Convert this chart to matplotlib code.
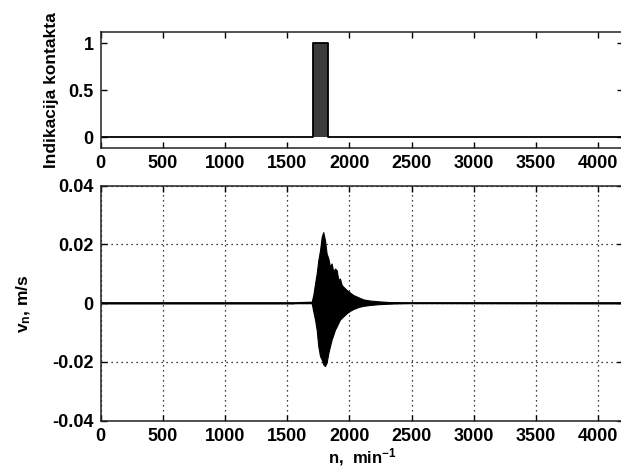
import matplotlib
matplotlib.use("Agg")
import matplotlib.pyplot as plt
import numpy as np

# ---- data ----
# contact indicator (top panel)
contact_n = [0, 1705, 1705, 1830, 1830, 4200]
contact_val = [0, 0, 1, 1, 0, 0]

# velocity burst envelope (bottom panel), n in min^-1, v in m/s
env_n = [0, 1550, 1600, 1690, 1697, 1710, 1724, 1737, 1750, 1764, 1777, 1790,
         1804, 1817, 1831, 1844, 1857, 1871, 1884, 1898, 1911, 1924, 1938,
         1951, 1978, 2005, 2031, 2072, 2112, 2165, 2246, 2353, 2460, 4200]
env_upper = [0, 0, 0.0004, 0.0005, 0.0005, 0.0028, 0.0067, 0.0101, 0.0146,
             0.0180, 0.0225, 0.0242, 0.0214, 0.0169, 0.0152, 0.0124, 0.0135,
             0.0107, 0.0118, 0.0112, 0.0079, 0.0084, 0.0062, 0.0056, 0.0045,
             0.0036, 0.0028, 0.0020, 0.0013, 0.0009, 0.0006, 0.0003, 0.0001, 0]
env_lower = [0, 0, 0, 0, 0, -0.0028, -0.0056, -0.0090, -0.0146, -0.0180,
             -0.0191, -0.0208, -0.0214, -0.0202, -0.0169, -0.0146, -0.0124,
             -0.0107, -0.0090, -0.0079, -0.0067, -0.0056, -0.0050, -0.0045,
             -0.0034, -0.0026, -0.0020, -0.0013, -0.0009, -0.0006, -0.0003,
             -0.0001, 0, 0]

x_ticks = [0, 500, 1000, 1500, 2000, 2500, 3000, 3500, 4000]
top_yticks = [0, 0.5, 1]
top_yticklabels = ["0", "0.5", "1"]
bot_yticks = [-0.04, -0.02, 0, 0.02, 0.04]
bot_yticklabels = ["-0.04", "-0.02", "0", "0.02", "0.04"]

plt.rcParams['font.family'] = ['Liberation Sans', 'DejaVu Sans']
plt.rcParams['font.weight'] = 'bold'
plt.rcParams['axes.labelweight'] = 'bold'
plt.rcParams['mathtext.fontset'] = 'custom'
plt.rcParams['mathtext.rm'] = 'Liberation Sans:bold'
plt.rcParams['mathtext.it'] = 'Liberation Sans:bold'
plt.rcParams['mathtext.bf'] = 'Liberation Sans:bold'
plt.rcParams['mathtext.default'] = 'rm'

W, H = 621, 472
fig = plt.figure(figsize=(W / 100, H / 100), dpi=100)

x0 = 100.5
scale = 0.12445  # px per unit n
xmax = 4200
wpx = xmax * scale

def fpos(left, top, width, height):
    return [left / W, 1 - (top + height) / H, width / W, height / H]

ax1 = fig.add_axes(fpos(x0, 32.3, wpx, 116.0))
ax2 = fig.add_axes(fpos(x0, 185.7, wpx, 235.0))

fs = 13
for ax in (ax1, ax2):
    ax.set_xlim(0, xmax)
    ax.set_xticks(x_ticks)
    ax.set_xticklabels([str(t) for t in x_ticks])
    ax.tick_params(direction='in', length=4, width=1.0, top=True, right=True,
                   labelsize=fs, pad=5, colors='black')
    for s in ax.spines.values():
        s.set_linewidth(1.1)
        s.set_color('#222222')

# top panel
ax1.fill_between(contact_n, contact_val, 0, color='#3c3c3c', linewidth=0)
ax1.plot(contact_n, contact_val, color='black', linewidth=1.3)
ax1.set_ylim(-0.117, 1.117)
ax1.set_yticks(top_yticks)
ax1.set_yticklabels(top_yticklabels)
ax1.set_ylabel("Indikacija kontakta", fontsize=fs - 0.5, labelpad=7)

# bottom panel
ax2.fill_between(env_n, env_upper, env_lower, color='black', linewidth=0.8,
                 edgecolor='black')
ax2.plot(env_n, np.zeros(len(env_n)), color='black', linewidth=1.3)
ax2.set_ylim(-0.04, 0.04)
ax2.set_yticks(bot_yticks)
ax2.set_yticklabels(bot_yticklabels)
ax2.grid(True, linestyle=(0, (1, 3)), color='black', linewidth=0.9)
ax2.set_ylabel("v$_n$, m/s", fontsize=fs - 0.5, labelpad=14)
ax2.set_xlabel("n,  min$^{-1}$", fontsize=fs - 1, labelpad=1)

fig.savefig("out.png", dpi=100)
